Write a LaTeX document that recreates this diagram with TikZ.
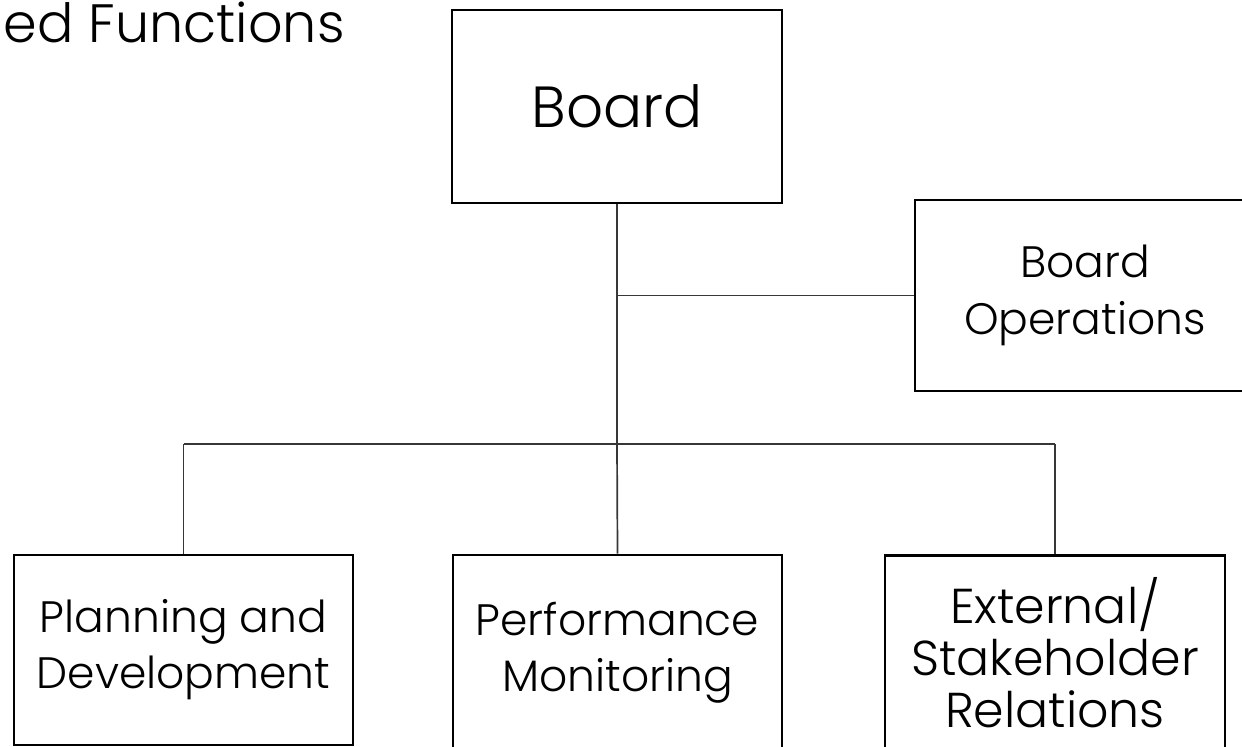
\documentclass[tikz,border=0pt]{standalone}
\usepackage{fontspec}
\IfFontExistsTF{Poppins Light}
  {\setmainfont{Poppins Light}}
  {\setmainfont{Poppins}}
\usetikzlibrary{positioning}
\definecolor{boxblack}{RGB}{0,0,0}
\definecolor{linkgray}{RGB}{55,55,55}
\tikzset{
  unit/.style={rectangle, draw=boxblack, fill=white, line width=1.35pt,
    inner sep=0pt, text centered, align=center},
  chief/.style={unit, minimum width=165pt, minimum height=96.5pt,
    font=\fontsize{29}{34}\selectfont},
  side/.style={unit, minimum width=170pt, minimum height=95.5pt,
    font=\fontsize{22}{28.5}\selectfont},
  sub/.style={unit, minimum height=95pt, font=\fontsize{22}{28}\selectfont},
  heading/.style={font=\fontsize{27}{30}\selectfont, inner sep=0pt},
  link/.style={draw=linkgray, line width=0.85pt}
}

\begin{document}
\begin{tikzpicture}[x=0.5pt, y=-0.5pt]
  \useasboundingbox (0,0) rectangle (1242,746);
  \node[heading, anchor=base east] (heading) at (345,42) {ed Functions};
  \node[chief] (board) at (617,106.5) {Board};
  \node[side] (boardops) at (1085,295.5) {Board\\Operations};
  \node[sub, minimum width=169.5pt] (plandev) at (183.5,650) {Planning and\\Development};
  \node[sub, minimum width=164.5pt, minimum height=97.5pt] (perfmon) at (617.5,652.5) {Performance\\Monitoring};
  \node[sub, minimum width=170pt, minimum height=97.5pt,
    font=\fontsize{24.5}{26}\selectfont] (extrel) at (1055,653) {External/\\Stakeholder\\Relations};
  % trunk and the branch to board operations
  \coordinate (fork) at (board.south |- boardops.west);
  \coordinate (bus) at (board.south |- 0,444);
  \draw[link] (board.south) -- (fork) -- (boardops.west);
  \draw[link] (fork) -- (bus);
  % bus to the three committees
  \draw[link] (plandev.north |- bus) -- (extrel.north |- bus);
  \draw[link] (plandev.north |- bus) -- (plandev.north);
  \draw[link] (bus) -- (perfmon.north);
  \draw[link] (extrel.north |- bus) -- (extrel.north);
\end{tikzpicture}
\end{document}
